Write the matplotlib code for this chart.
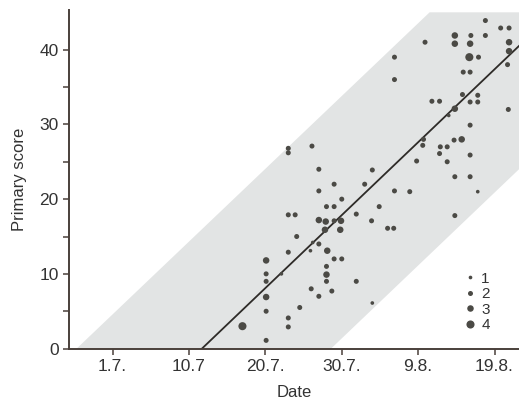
import matplotlib.pyplot as plt
from matplotlib.lines import Line2D

plt.rcParams['font.family'] = ['Liberation Sans', 'DejaVu Sans']

# x = days after 1.7. (ticks are evenly spaced every 10 days)
days = [48.8, 50.8, 51.9, 44.8, 46.9, 48.8, 40.9, 44.8, 46.8, 51.9,
        51.9, 46.7, 47.9, 51.7, 36.9, 36.9, 45.9, 46.8, 41.8, 42.8,
        45.8, 47.8, 46.8, 47.8, 44.8, 51.8, 44.0, 46.8, 40.7, 40.6,
        44.7, 45.7, 42.9, 43.8, 42.8, 46.8, 39.8, 43.8, 23.0, 23.0,
        26.1, 27.0, 34.0, 44.8, 46.8, 29.0, 33.0, 27.0, 36.9, 38.9,
        47.8, 30.0, 28.0, 29.0, 34.9, 23.0, 23.9, 31.9, 44.8, 27.0,
        27.9, 29.0, 29.9, 33.9, 36.0, 36.8, 27.8, 29.8, 24.1, 26.2,
        27.0, 23.0, 25.9, 28.1, 29.0, 30.0, 20.1, 22.1, 20.1, 28.0,
        28.0, 28.0, 20.1, 31.9, 26.0, 28.7, 20.1, 27.0, 34.0, 20.1,
        24.5, 23.0, 23.0, 20.1, 17.0]
scores = [43.9, 42.9, 42.9, 41.9, 41.9, 41.9, 41.0, 40.8, 40.8, 41.0,
          39.8, 39.0, 39.0, 38.0, 39.0, 36.0, 37.0, 37.0, 33.1, 33.1,
          34.0, 33.9, 33.0, 33.0, 32.1, 32.0, 31.2, 29.9, 28.0, 27.2,
          27.9, 28.0, 27.0, 27.0, 26.1, 25.9, 25.1, 25.0, 26.8, 26.2,
          27.1, 24.0, 23.9, 23.0, 23.0, 22.0, 22.0, 21.1, 21.1, 21.0,
          21.0, 20.0, 19.0, 19.0, 19.0, 17.9, 17.9, 18.0, 17.8, 17.2,
          17.0, 17.1, 17.1, 17.1, 16.1, 16.1, 15.9, 15.9, 15.0, 14.2,
          14.0, 12.9, 13.1, 13.1, 12.0, 12.0, 11.8, 10.0, 10.0, 11.0,
          9.9, 9.0, 9.0, 9.0, 8.0, 7.7, 6.9, 7.0, 6.1, 5.0,
          5.5, 4.1, 2.9, 1.1, 3.0]
counts = [2, 2, 2, 3, 2, 2, 2, 3, 3, 3,
          3, 4, 2, 2, 2, 2, 2, 2, 2, 2,
          2, 2, 2, 2, 3, 2, 1, 2, 2, 2,
          2, 3, 2, 2, 2, 2, 2, 2, 2, 2,
          2, 2, 2, 2, 2, 2, 2, 2, 2, 2,
          1, 2, 2, 2, 2, 2, 2, 2, 2, 3,
          3, 2, 3, 2, 2, 2, 3, 3, 2, 1,
          2, 2, 1, 3, 2, 2, 3, 1, 2, 2,
          3, 2, 2, 2, 2, 2, 3, 2, 1, 2,
          2, 2, 2, 2, 4]

# regression line end points and the grey band (envelope)
line_x = [11.7, 53.2]
line_y = [0.0, 40.5]
band_x = [-4.7, 28.6, 53.2, 53.2, 41.5]
band_y = [0.0, 0.0, 24.0, 45.0, 45.0]

tick_pos = [0, 10, 20, 30, 40, 50]
tick_labels = ['1.7.', '10.7', '20.7.', '30.7.', '9.8.', '19.8.']

marker_area = {1: 7, 2: 13, 3: 22, 4: 34}
dot_color = '#4b4a45'

fig = plt.figure(figsize=(5.19, 4.03), dpi=100)
ax = fig.add_axes([0.133, 0.135, 0.867, 0.84])

ax.fill(band_x, band_y, color='#e2e4e4', lw=0, zorder=1)
ax.plot(line_x, line_y, color='#2e2b28', lw=1.3, zorder=2)
ax.scatter(days, scores, s=[marker_area[c] for c in counts], color=dot_color,
           lw=0, zorder=3)

ax.set_xlim(-5.7, 53.2)
ax.set_ylim(0, 45.3)
ax.set_xticks(tick_pos)
ax.set_xticklabels(tick_labels)
ax.set_yticks([0, 10, 20, 30, 40])
ax.set_yticks([5, 15, 25, 35], minor=True)

for side in ['top', 'right']:
    ax.spines[side].set_visible(False)
for side in ['left', 'bottom']:
    ax.spines[side].set_color('#4a403b')
    ax.spines[side].set_linewidth(1.4)
ax.tick_params(which='both', direction='out', length=4.5, width=1.1,
               color='#4a403b', labelsize=12.5, labelcolor='#333333', pad=3)

ax.set_xlabel('Date', fontsize=12, color='#333333', labelpad=8)
ax.set_ylabel('Primary score', fontsize=12, color='#333333', labelpad=9)

handles = [Line2D([], [], ls='', marker='o', markersize=marker_area[c] ** 0.5,
                  markerfacecolor=dot_color, markeredgewidth=0)
           for c in [1, 2, 3, 4]]
ax.legend(handles, ['1', '2', '3', '4'], loc='upper left',
          bbox_to_anchor=(0.865, 0.25), frameon=False, fontsize=11,
          labelspacing=0.1, handlelength=0.6, handletextpad=0.4,
          borderpad=0, labelcolor='#333333')

fig.savefig('out.png', dpi=100)
